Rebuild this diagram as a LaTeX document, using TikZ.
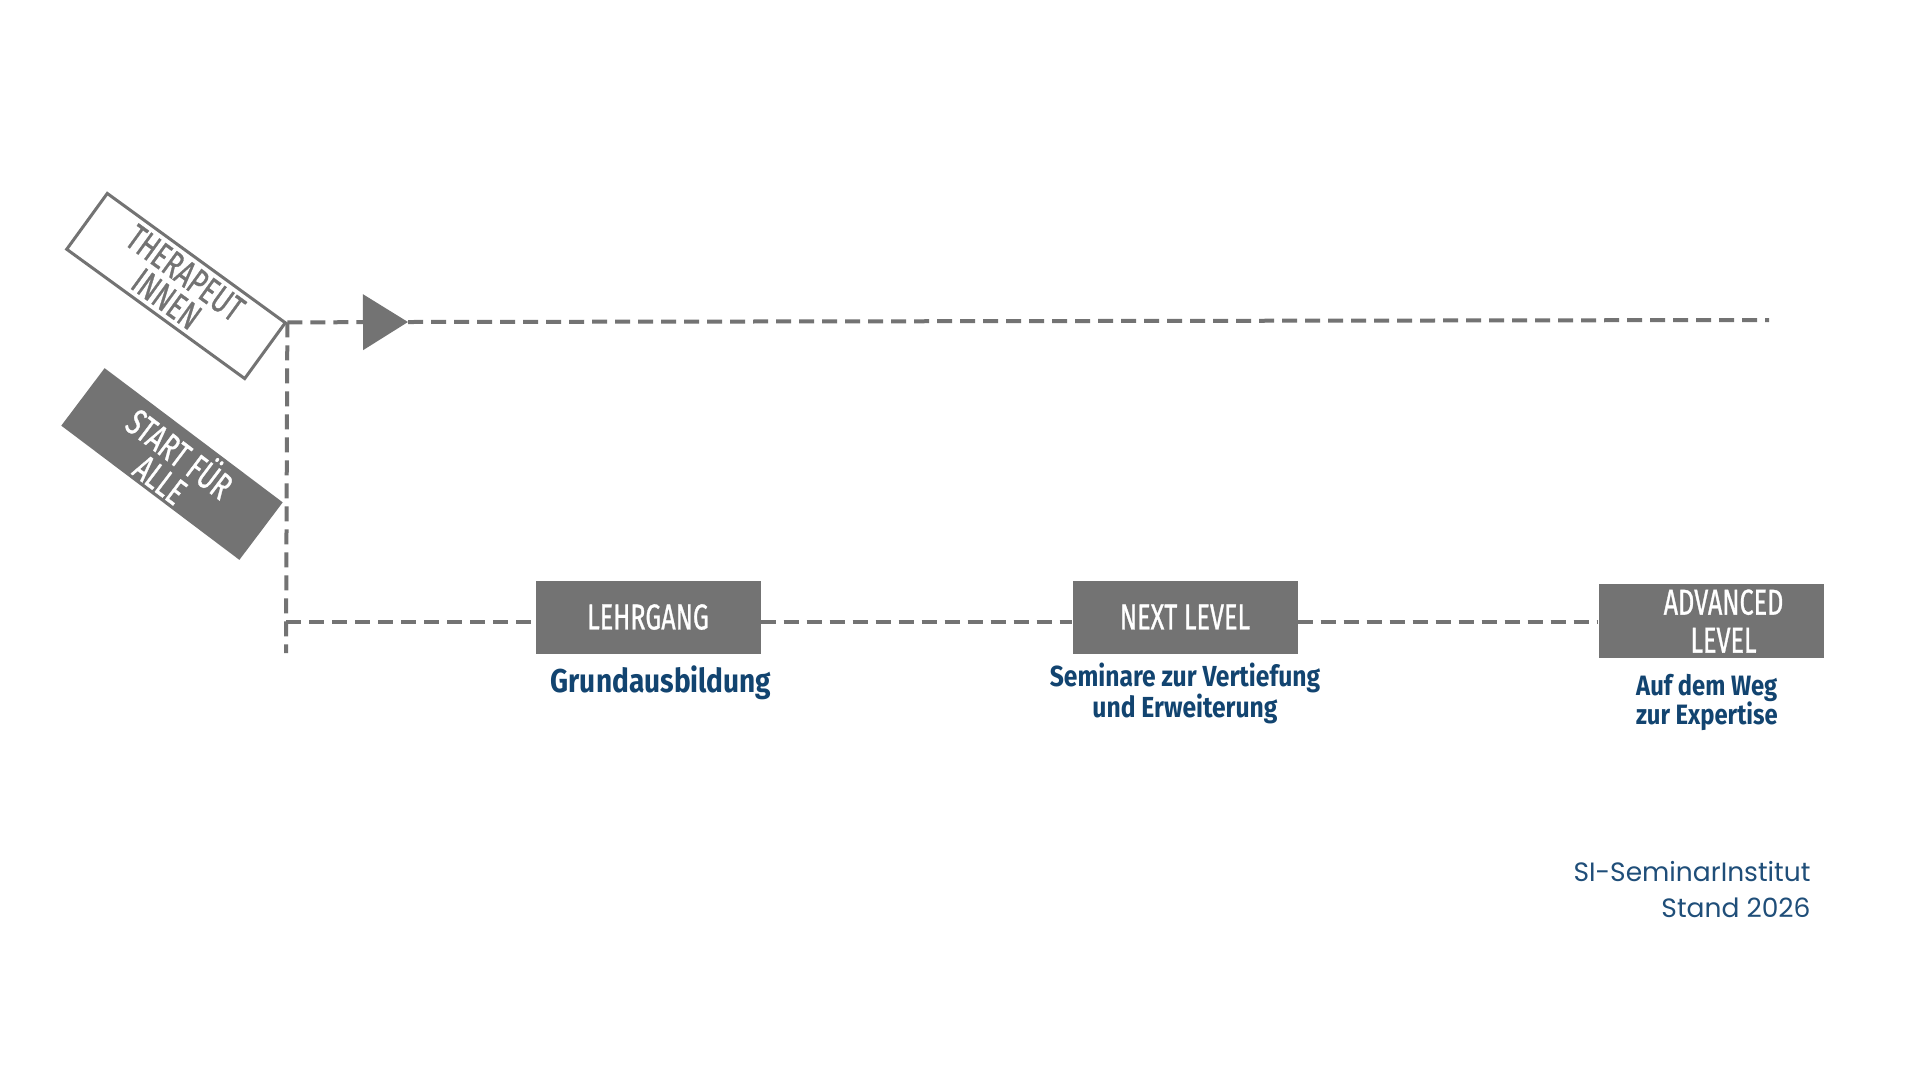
\documentclass[tikz,border=0pt]{standalone}
\usepackage{fontspec}
\usetikzlibrary{arrows.meta,positioning}
\newfontfamily\cond[FakeStretch=0.7,FakeBold=0.8]{Fira Sans}
\newfontfamily\condb[FakeStretch=0.85]{Fira Sans}
\newfontfamily\footfont{Poppins}
\definecolor{stagegray}{HTML}{737373}
\definecolor{siblue}{HTML}{124470}
\definecolor{footblue}{HTML}{1F4E79}

\begin{document}
\begin{tikzpicture}[x=1pt,y=-1pt,
    path/.style={stagegray,line width=4pt,dash pattern=on 15pt off 8pt},
    stagebox/.style={fill=stagegray,text=white,minimum width=225pt,minimum height=73pt,
      inner sep=0pt,align=center,font=\cond\fontsize{36}{38}\selectfont},
    sub/.style={text=siblue,align=center,font=\condb\bfseries\fontsize{33}{29}\selectfont},
    tiltbox/.style={minimum width=220pt,minimum height=69pt,inner sep=0pt,align=center,
      font=\cond\fontsize{37}{32}\selectfont}]
  \useasboundingbox[fill=white] (0,0) rectangle (1920,1080);

  % entry points
  \node[tiltbox,draw=stagegray,line width=3pt,text=stagegray,rotate=-36] (ther) at (176,286) {THERAPEUT\\INNEN};
  \node[tiltbox,fill=stagegray,text=white,minimum width=223pt,minimum height=72pt,rotate=-37] (start) at (172,464) {START FÜR\\ALLE};

  % stages
  \node[stagebox] (lehr) at (648,617) {LEHRGANG};
  \node[stagebox] (next) at (1185,617) {NEXT LEVEL};
  \node[stagebox,minimum height=74pt] (adv) at (1711,621) {\hspace*{25pt}ADVANCED\\\hspace*{25pt}LEVEL};

  \node[sub] (grund) at (661,683) {Grundausbildung};
  \node[sub,font=\condb\bfseries\fontsize{29}{29}\selectfont] (sem) at (1185,693) {Seminare zur Vertiefung\\und Erweiterung};
  \node[sub,align=left,font=\condb\bfseries\fontsize{28}{29}\selectfont] (weg) at (1707,702) {Auf dem Weg\\zur Expertise};

  % footer
  \node[anchor=base east,align=right,text=footblue,font=\footfont\fontsize{26.5}{36}\selectfont] (foot) at (1814,917) {SI-SeminarInstitut\\Stand 2026};

  % connectors
  \coordinate (corner) at (ther.north east);
  \coordinate (tip) at (408,322);
  \coordinate (topend) at (1769,320);
  \coordinate (low) at (286,622);
  \coordinate (bottom) at (286,653);
  \draw[path] (corner) -- (bottom);
  \draw[path,-{Triangle[length=45pt,width=55pt]}] (corner) -- (tip);
  \draw[path] (tip) -- (topend);
  \draw[path] (low) -- (low -| lehr.west);
  \draw[path] (low -| lehr.east) -- (low -| next.west);
  \draw[path] (low -| next.east) -- (low -| adv.west);
\end{tikzpicture}
\end{document}
